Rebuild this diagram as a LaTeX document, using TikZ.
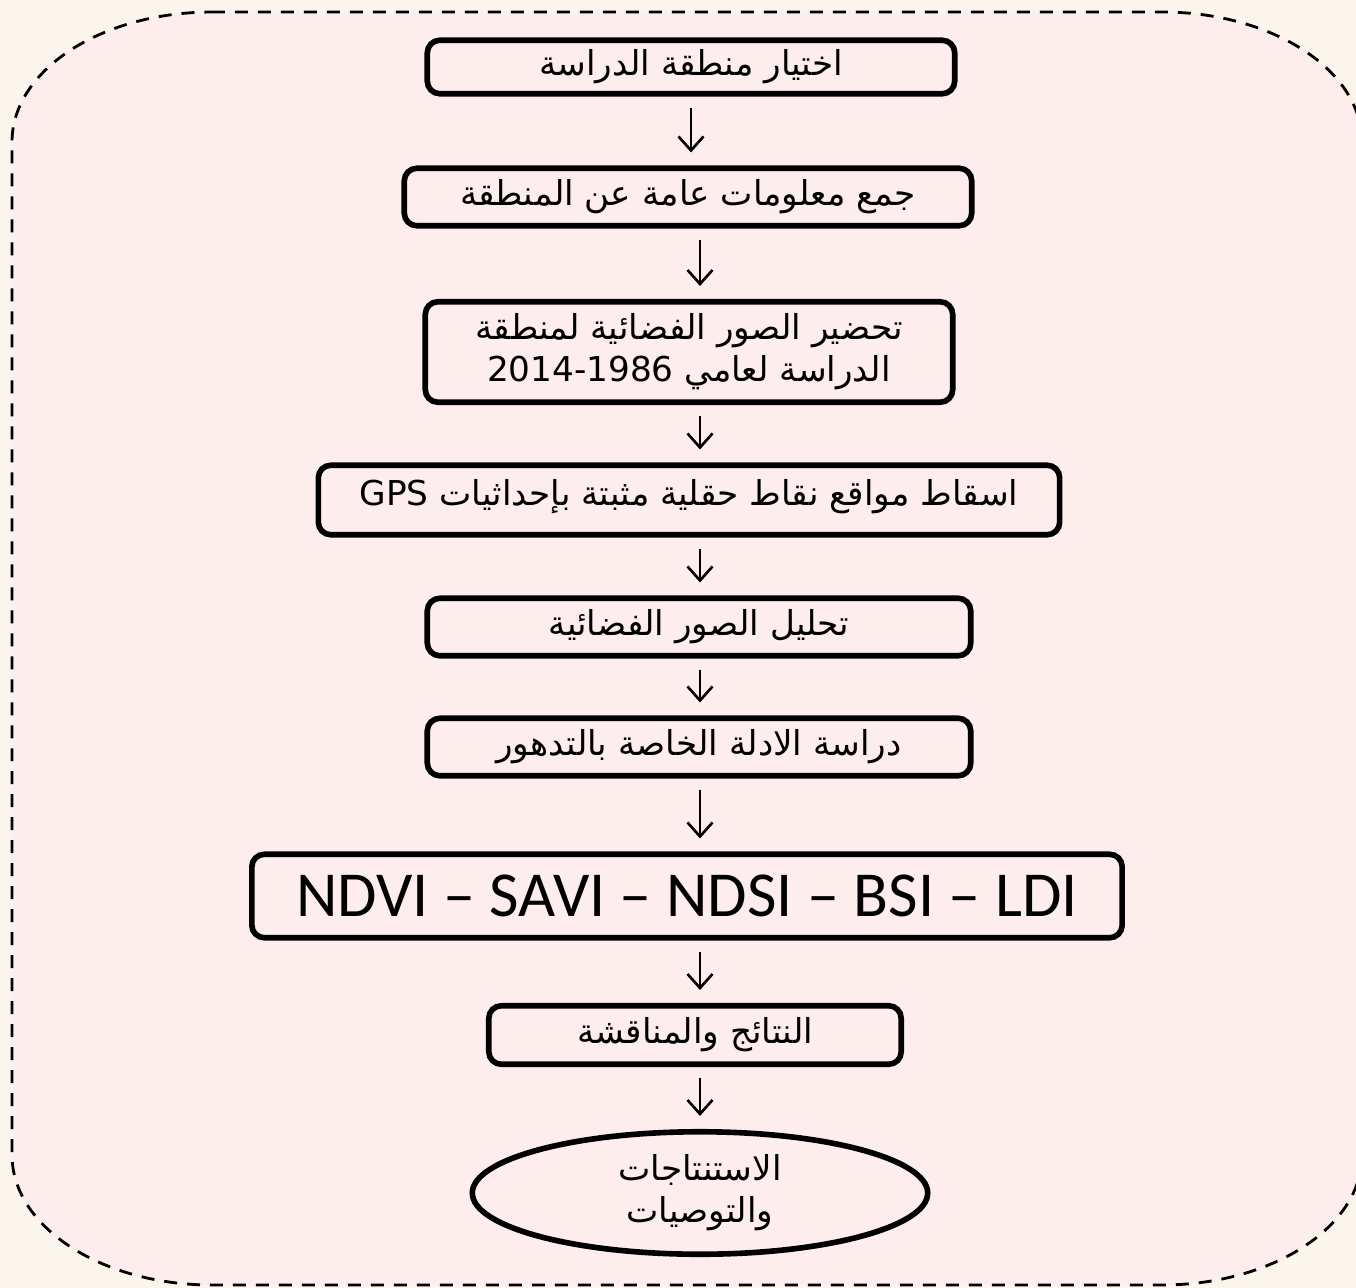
\documentclass[tikz,border=0pt]{standalone}
\usepackage{fontspec}
\setmainfont{DejaVu Sans}
\newfontfamily\arabicfont[Script=Arabic]{DejaVu Sans}
\newfontfamily\idxfont{Carlito}
\TeXXeTstate=1
\usetikzlibrary{arrows.meta,shapes.geometric}
\definecolor{pagebg}{HTML}{FBF5EC}
\definecolor{boxpink}{HTML}{FDEDED}
\newcommand{\artxt}[1]{\beginR #1\endR}

\begin{document}
\begin{tikzpicture}[x=0.02cm,y=-0.02cm,
  box/.style={draw, line width=3.2pt, rounded corners=0.25cm, fill=boxpink,
    inner sep=0pt, align=center, font=\arabicfont\fontsize{19.5}{24}\selectfont},
  endbox/.style={draw, ellipse, line width=3.2pt, fill=boxpink, inner sep=0pt,
    align=center, font=\arabicfont\fontsize{19.5}{24}\selectfont},
  arr/.style={-{Straight Barb[length=0.28cm,width=0.5cm]}, line width=1.5pt,
    shorten <=0.22cm, shorten >=0.26cm}]

% ( page in pixel units: 1356 x 1288, y grows downwards )
\fill[pagebg] (0,0) rectangle (1356,1288);
\useasboundingbox (0,0) rectangle (1356,1288);

% dashed frame, its right side runs off the page
\filldraw[fill=boxpink, line width=1.6pt, dash pattern=on 0.26cm off 0.2cm]
  (212,12) -- (1162,12)
  arc[start angle=90, end angle=0, x radius=4cm, y radius=2.6cm]
  -- (1362,1155)
  arc[start angle=0, end angle=-90, x radius=4cm, y radius=2.6cm]
  -- (212,1285)
  arc[start angle=-90, end angle=-180, x radius=4cm, y radius=2.6cm]
  -- (12,142)
  arc[start angle=180, end angle=90, x radius=4cm, y radius=2.6cm] -- cycle;

\node[box, minimum width=10.55cm, minimum height=1.07cm] (s1) at (691,67)
  {\artxt{اختيار منطقة الدراسة}};
\node[box, minimum width=11.35cm, minimum height=1.15cm] (s2) at (688,197)
  {\artxt{جمع معلومات عامة عن المنطقة}};
\node[box, minimum width=10.55cm, minimum height=2.01cm] (s3) at (689,352)
  {\artxt{تحضير الصور الفضائية لمنطقة}\\
   \artxt{الدراسة لعامي \beginL 2014-1986\endL}};
\node[box, minimum width=14.83cm, minimum height=1.39cm] (s4) at (689,500)
  {\raisebox{0.32cm}{\artxt{اسقاط مواقع نقاط حقلية مثبتة بإحداثيات \beginL GPS\endL}}};
\node[box, minimum width=10.87cm, minimum height=1.15cm] (s5) at (699,627)
  {\artxt{تحليل الصور الفضائية}};
\node[box, minimum width=10.87cm, minimum height=1.15cm] (s6) at (699,747)
  {\artxt{دراسة الادلة الخاصة بالتدهور}};
\node[box, minimum width=17.41cm, minimum height=1.67cm,
  font=\idxfont\fontsize{36.5}{40}\selectfont] (s7) at (687,896)
  {NDVI – SAVI – NDSI – BSI – LDI};
\node[box, minimum width=8.25cm, minimum height=1.17cm] (s8) at (695,1035)
  {\artxt{النتائج والمناقشة}};
\node[endbox, minimum width=9.11cm, minimum height=2.45cm] (s9) at (700,1193)
  {\artxt{الاستنتاجات}\\ \artxt{والتوصيات}};

% arrows stand straight, most of them on the ellipse's axis
\draw[arr] (s1.south) -- (s1.south |- s2.north);
\draw[arr] (s2.south -| s9) -- (s3.north -| s9);
\draw[arr] (s3.south -| s9) -- (s4.north -| s9);
\draw[arr] (s4.south -| s9) -- (s5.north -| s9);
\draw[arr] (s5.south -| s9) -- (s6.north -| s9);
\draw[arr] (s6.south -| s9) -- (s7.north -| s9);
\draw[arr] (s7.south -| s9) -- (s8.north -| s9);
\draw[arr] (s8.south -| s9) -- (s9.north);
\end{tikzpicture}
\end{document}
